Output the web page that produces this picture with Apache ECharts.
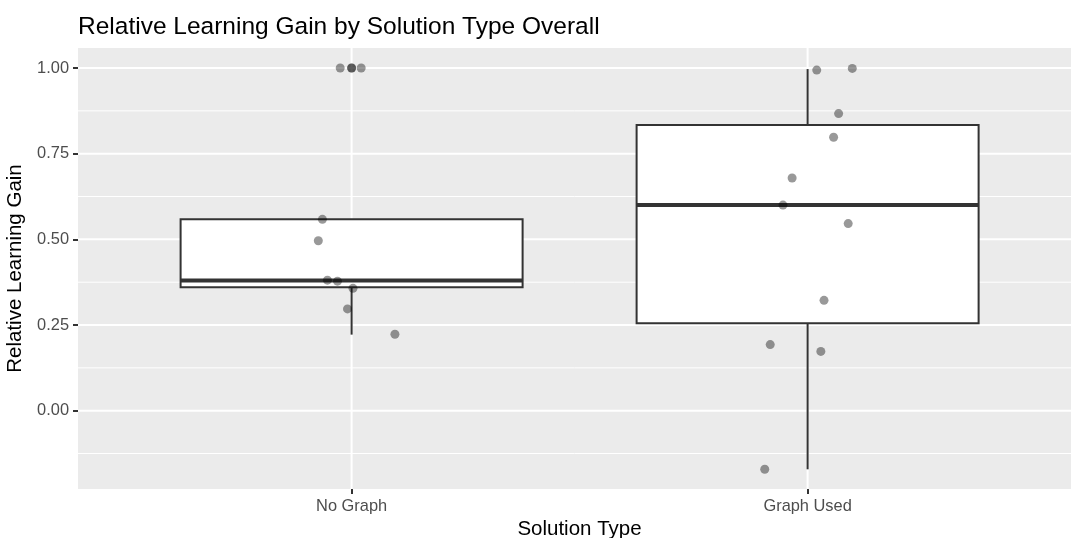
<!DOCTYPE html>
<html>
<head>
<meta charset="utf-8">
<script src="https://cdn.jsdelivr.net/npm/echarts@6/dist/echarts.min.js"></script>
<style>
html,body{margin:0;padding:0;background:#fff;}
#chart{width:1071px;height:538px;}
</style>
</head>
<body>
<div id="chart"></div>
<script>
// ---- data ----
const categories = ['No Graph', 'Graph Used'];
const yTicks = [0, 0.25, 0.5, 0.75, 1];
const yMinorTicks = [-0.125, 0.125, 0.375, 0.625, 0.875];
// box statistics: [min, Q1, median, Q3, max]
const boxNoGraph = [0.222, 0.3606, 0.380, 0.5585, 0.5585];
const boxGraphUsed = [-0.171, 0.255, 0.600, 0.834, 0.997];
// individual observations and their horizontal jitter (category units)
const noGraphValues = [1.0, 1.0, 1.0, 1.0, 0.5585, 0.496, 0.381, 0.378, 0.357, 0.297, 0.223];
const noGraphJitter = [-0.025, 0.0, 0.0, 0.021, -0.064, -0.073, -0.053, -0.031, 0.003, -0.009, 0.095];
const graphUsedValues = [0.994, 0.999, 0.867, 0.798, 0.679, 0.600, 0.546, 0.322, 0.193, 0.173, -0.171];
const graphUsedJitter = [0.020, 0.098, 0.068, 0.057, -0.034, -0.054, 0.089, 0.036, -0.082, 0.029, -0.094];

const FONT = '"Liberation Sans", Arial, Helvetica, sans-serif';
const chart = echarts.init(document.getElementById('chart'), null, {renderer: 'canvas'});

const boxData = [[1].concat(boxNoGraph), [2].concat(boxGraphUsed)];
const pointData = [];
noGraphValues.forEach((v, i) => pointData.push([1 + noGraphJitter[i], v]));
graphUsedValues.forEach((v, i) => pointData.push([2 + graphUsedJitter[i], v]));

const gridData = [];
yMinorTicks.forEach(v => gridData.push([1, v, 1]));
yTicks.forEach(v => gridData.push([1, v, 0]));
categories.forEach((c, i) => gridData.push([i + 1, 0.5, 2]));

const option = {
  animation: false,
  backgroundColor: '#ffffff',
  title: {
    text: 'Relative Learning Gain by Solution Type Overall',
    left: 78, top: 15, padding: 0,
    textStyle: {fontFamily: FONT, fontSize: 24.5, fontWeight: 'normal', color: '#000'}
  },
  grid: {left: 78, top: 48, right: 0, height: 441, show: true, backgroundColor: '#EBEBEB', borderWidth: 0,
    containLabel: false, outerBoundsMode: 'none'},
  xAxis: {
    type: 'value', min: 0.4, max: 2.5776,
    name: 'Solution Type', nameLocation: 'middle', nameGap: 28,
    nameTextStyle: {fontFamily: FONT, fontSize: 20.5, color: '#000', padding: [0, 0, 0, 10]},
    axisLine: {show: false, onZero: false},
    axisTick: {show: true, length: 5, lineStyle: {color: '#333', width: 2}, customValues: [1, 2]},
    axisLabel: {fontFamily: FONT, fontSize: 16.4, color: '#4D4D4D', margin: 9, customValues: [1, 2],
      formatter: v => categories[Math.round(v) - 1] || ''},
    splitLine: {show: false}
  },
  yAxis: {
    type: 'value', min: -0.2285, max: 1.0585,
    name: 'Relative Learning Gain', nameLocation: 'middle', nameGap: 42,
    nameTextStyle: {fontFamily: FONT, fontSize: 20.5, color: '#000'},
    axisLine: {show: false, onZero: false},
    axisTick: {show: true, length: 5, lineStyle: {color: '#333', width: 2}, customValues: yTicks},
    axisLabel: {fontFamily: FONT, fontSize: 16.4, color: '#4D4D4D', margin: 9, customValues: yTicks,
      formatter: v => v.toFixed(2)},
    splitLine: {show: false}
  },
  series: [
    {
      type: 'custom', z: 1, silent: true,
      data: gridData,
      renderItem: function (params, api) {
        const cs = params.coordSys;
        const kind = api.value(2);
        if (kind === 2) {
          const x = api.coord([api.value(0), 0])[0];
          return {type: 'line', shape: {x1: x, y1: cs.y, x2: x, y2: cs.y + cs.height},
            style: {stroke: '#ffffff', lineWidth: 2}};
        }
        const y = api.coord([1, api.value(1)])[1];
        return {type: 'line', shape: {x1: cs.x, y1: y, x2: cs.x + cs.width, y2: y},
          style: {stroke: '#ffffff', lineWidth: kind === 0 ? 2 : 1}};
      }
    },
    {
      type: 'custom', z: 2, silent: true,
      data: boxData,
      renderItem: function (params, api) {
        const x = api.value(0);
        const half = api.size([0.375, 0])[0];
        const c = api.coord([x, 0])[0];
        const yMin = api.coord([x, api.value(1)])[1];
        const yQ1 = api.coord([x, api.value(2)])[1];
        const yMed = api.coord([x, api.value(3)])[1];
        const yQ3 = api.coord([x, api.value(4)])[1];
        const yMax = api.coord([x, api.value(5)])[1];
        const st = {stroke: '#333333', lineWidth: 2, fill: null};
        return {type: 'group', children: [
          {type: 'line', shape: {x1: c, y1: yMax, x2: c, y2: yQ3}, style: st},
          {type: 'line', shape: {x1: c, y1: yQ1, x2: c, y2: yMin}, style: st},
          {type: 'rect', shape: {x: c - half, y: yQ3, width: 2 * half, height: yQ1 - yQ3},
            style: {fill: '#ffffff', stroke: '#333333', lineWidth: 2}},
          {type: 'line', shape: {x1: c - half, y1: yMed, x2: c + half, y2: yMed},
            style: {stroke: '#333333', lineWidth: 4}}
        ]};
      }
    },
    {
      type: 'scatter', z: 3, silent: true,
      data: pointData,
      symbol: 'circle', symbolSize: 9,
      itemStyle: {color: 'rgba(0,0,0,0.5)', borderWidth: 0}
    }
  ]
};
chart.setOption(option);
</script>
</body>
</html>
